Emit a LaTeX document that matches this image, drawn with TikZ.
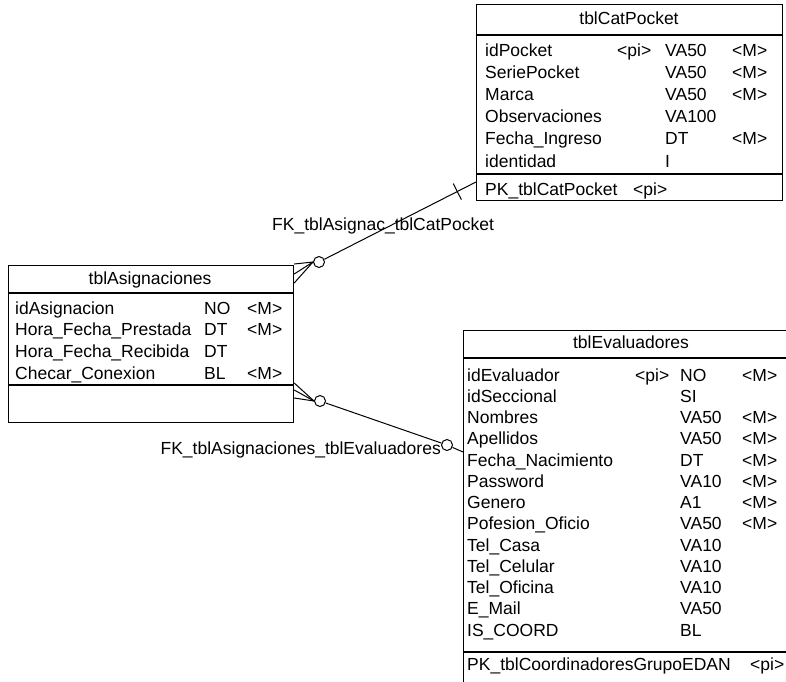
\documentclass[tikz,border=0pt]{standalone}
\usepackage{fontspec}
\setmainfont{Liberation Sans}
\usetikzlibrary{calc}
\tikzset{
  tbl/.style={draw,line width=1.2pt,rectangle,inner sep=0pt,anchor=north west},
  sep/.style={line width=1.2pt},
  fld/.style={anchor=base west,inner sep=0pt,font=\fontsize{17.5}{20}\selectfont},
  ttl/.style={anchor=base,inner sep=0pt,font=\fontsize{17.5}{20}\selectfont},
  rel/.style={line width=1pt},
  opt/.style={draw,circle,line width=1pt,minimum size=11pt,inner sep=0pt,fill=white},
}
\begin{document}
\begin{tikzpicture}[x=1pt,y=-1pt]
\useasboundingbox (0,0) rectangle (786,681);
\clip (0,0) rectangle (786,681);
% tblCatPocket
\node[tbl,minimum width=306pt,minimum height=196pt] (cp) at (476,4) {};
\draw[sep] (476,35) -- (782,35) (476,174) -- (782,174);
\node[ttl] (cpT) at (629,24) {tblCatPocket};
\foreach \n/\k/\t/\m [count=\i from 0] in {idPocket/<pi>/VA50/<M>,SeriePocket//VA50/<M>,Marca//VA50/<M>,Observaciones//VA100/,Fecha\_Ingreso//DT/<M>,identidad//I/} {
  \node[fld] (cpn\i) at (485,{56+22.2*\i}) {\n};
  \node[fld] (cpk\i) at (617,{56+22.2*\i}) {\k};
  \node[fld] (cpt\i) at (665,{56+22.2*\i}) {\t};
  \node[fld] (cpm\i) at (732,{56+22.2*\i}) {\m};
}
\node[fld] (cpPK) at (485,195) {PK\_tblCatPocket};
\node[fld] (cpPKi) at (633,195) {<pi>};
% tblAsignaciones
\node[tbl,minimum width=285pt,minimum height=157pt] (asg) at (8,265) {};
\draw[sep] (8,293) -- (293,293) (8,385) -- (293,385);
\node[ttl] (asgT) at (150,284) {tblAsignaciones};
\foreach \n/\t/\m [count=\i from 0] in {idAsignacion/NO/<M>,Hora\_Fecha\_Prestada/DT/<M>,Hora\_Fecha\_Recibida/DT/,Checar\_Conexion/BL/<M>} {
  \node[fld] (asgn\i) at (15,{314+21.7*\i}) {\n};
  \node[fld] (asgt\i) at (204,{314+21.7*\i}) {\t};
  \node[fld] (asgm\i) at (247,{314+21.7*\i}) {\m};
}
% tblEvaluadores (runs past the page edge)
\node[tbl,minimum width=337pt,minimum height=370pt] (ev) at (463,330) {};
\draw[sep] (463,358) -- (800,358) (463,652) -- (800,652);
\node[ttl] (evT) at (631,348) {tblEvaluadores};
\foreach \n/\k/\t/\m [count=\i from 0] in {idEvaluador/<pi>/NO/<M>,idSeccional//SI/,Nombres//VA50/<M>,Apellidos//VA50/<M>,Fecha\_Nacimiento//DT/<M>,Password//VA10/<M>,Genero//A1/<M>,Pofesion\_Oficio//VA50/<M>,Tel\_Casa//VA10/,Tel\_Celular//VA10/,Tel\_Oficina//VA10/,E\_Mail//VA50/,IS\_COORD//BL/} {
  \node[fld] (evn\i) at (467,{381+21.25*\i}) {\n};
  \node[fld] (evk\i) at (635,{381+21.25*\i}) {\k};
  \node[fld] (evt\i) at (680,{381+21.25*\i}) {\t};
  \node[fld] (evm\i) at (742,{381+21.25*\i}) {\m};
}
\node[fld] (evPK) at (467,670) {PK\_tblCoordinadoresGrupoEDAN};
\node[fld] (evPKi) at (750,670) {<pi>};
% FK_tblAsignac_tblCatPocket
\node[opt] (o1) at (319,262) {};
\coordinate (cpin) at (cp.west |- 0,182);
\foreach \y in {264,274,283} \draw[rel] (asg.east |- 0,\y) -- (o1.west);
\draw[rel] (o1) -- (cpin);
\coordinate (tk) at ($(cpin)!21pt!(o1)$);
\draw[rel] ($(tk)!9pt!90:(cpin)$) -- ($(tk)!9pt!-90:(cpin)$);
\node[fld] (fk1) at (272,230) {FK\_tblAsignac\_tblCatPocket};
% FK_tblAsignaciones_tblEvaluadores
\node[opt] (o2) at (320,401) {};
\node[opt] (o3) at (447,445) {};
\foreach \y in {383,390,398} \draw[rel] (asg.east |- 0,\y) -- (o2.west);
\draw[rel] (o2) -- (o3);
\draw[rel] (o3) -- (ev.west |- 0,452);
\node[fld,anchor=base east] (fk2) at (441,454) {FK\_tblAsignaciones\_tblEvaluadores};
\end{tikzpicture}
\end{document}
